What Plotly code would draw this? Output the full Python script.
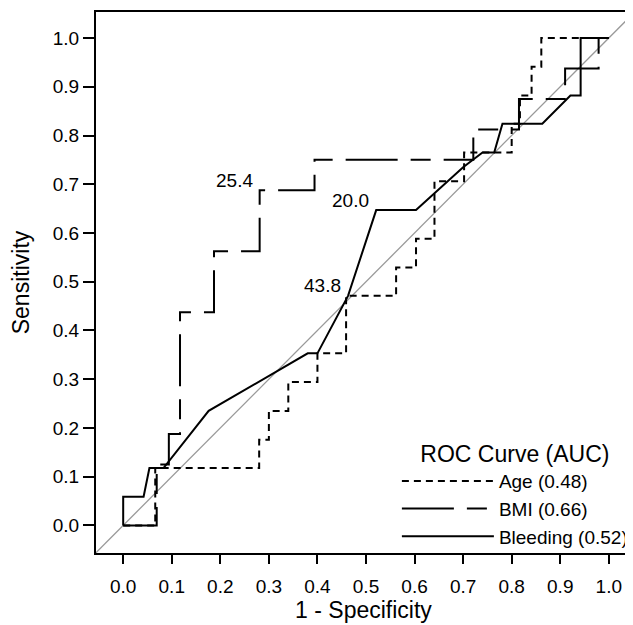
import plotly.graph_objects as go

# ROC curves (1 - specificity, sensitivity)
age_fpr = [0, 0.066, 0.066, 0.28, 0.28, 0.30, 0.30, 0.34, 0.34, 0.40, 0.40, 0.459, 0.459,
           0.562, 0.562, 0.603, 0.603, 0.641, 0.641, 0.702, 0.702, 0.80, 0.80, 0.817,
           0.817, 0.841, 0.841, 0.861, 0.861, 1.0]
age_tpr = [0, 0, 0.118, 0.118, 0.176, 0.176, 0.235, 0.235, 0.294, 0.294, 0.353, 0.353, 0.471,
           0.471, 0.529, 0.529, 0.588, 0.588, 0.706, 0.706, 0.765, 0.765, 0.824, 0.824,
           0.882, 0.882, 0.941, 0.941, 1.0, 1.0]

bmi_fpr = [0, 0.069, 0.069, 0.094, 0.094, 0.117, 0.117, 0.187, 0.187, 0.281, 0.281, 0.394,
           0.394, 0.721, 0.721, 0.815, 0.815, 0.91, 0.91, 0.979, 0.979, 1.0]
bmi_tpr = [0, 0, 0.125, 0.125, 0.1875, 0.1875, 0.4375, 0.4375, 0.5625, 0.5625, 0.6875, 0.6875,
           0.75, 0.75, 0.8125, 0.8125, 0.875, 0.875, 0.9375, 0.9375, 1.0, 1.0]

bleed_fpr = [0, 0, 0.042, 0.054, 0.083, 0.176, 0.38, 0.40, 0.463, 0.521, 0.603, 0.70, 0.74,
             0.764, 0.781, 0.863, 0.921, 0.942, 0.942, 1.0]
bleed_tpr = [0, 0.0588, 0.0588, 0.1176, 0.1176, 0.235, 0.353, 0.353, 0.471, 0.647, 0.647,
             0.735, 0.765, 0.765, 0.824, 0.824, 0.882, 0.882, 1.0, 1.0]

names = ["Age (0.48)", "BMI (0.66)", "Bleeding (0.52)"]

# cutoff labels and the curve points they sit next to
cut_text = ["25.4", "20.0", "43.8"]
cut_x = [0.281, 0.521, 0.463]
cut_y = [0.6875, 0.647, 0.472]

ref_line = [-0.1, 1.1]
ticks = [i / 10 for i in range(11)]
tick_text = ["%.1f" % t for t in ticks]

FONT = "Liberation Sans, Arial, sans-serif"

fig = go.Figure()

# chance line
fig.add_trace(go.Scatter(x=ref_line, y=ref_line, mode="lines",
                         line=dict(color="#999999", width=1.3),
                         showlegend=False, hoverinfo="skip"))

fig.add_trace(go.Scatter(x=age_fpr, y=age_tpr, mode="lines", name=names[0],
                         line=dict(color="black", width=2, dash="7px,5px")))
fig.add_trace(go.Scatter(x=bmi_fpr, y=bmi_tpr, mode="lines", name=names[1],
                         line=dict(color="black", width=2, dash="52px,13px,20px,13px")))
fig.add_trace(go.Scatter(x=bleed_fpr, y=bleed_tpr, mode="lines", name=names[2],
                         line=dict(color="black", width=2)))

for t, x, y in zip(cut_text, cut_x, cut_y):
    fig.add_annotation(x=x, y=y, text=t, showarrow=False,
                       xanchor="right", yanchor="bottom", xshift=-5, yshift=-3,
                       font=dict(size=19, color="black", family=FONT))

# page body has an 8px margin; the figure runs a little past the window bottom
fig.update_layout(
    width=625,
    height=625,
    margin=dict(l=88, r=0, t=4, b=80),
    paper_bgcolor="white",
    plot_bgcolor="white",
    font=dict(family=FONT, size=19, color="black"),
    xaxis=dict(
        range=[-0.056, 1.0457],
        tickmode="array", tickvals=ticks, ticktext=tick_text,
        showline=True, linecolor="black", linewidth=2, mirror=True,
        ticks="outside", ticklen=9, tickwidth=2, tickcolor="black",
        ticklabelstandoff=6,
        showgrid=False, zeroline=False,
        title=dict(text="1 - Specificity", standoff=6),
    ),
    yaxis=dict(
        range=[-0.0566, 1.0534],
        tickmode="array", tickvals=ticks, ticktext=tick_text,
        showline=True, linecolor="black", linewidth=2,
        ticks="outside", ticklen=11, tickwidth=2, tickcolor="black",
        showgrid=False, zeroline=False,
        title=dict(text="Sensitivity", standoff=24),
    ),
    legend=dict(
        title=dict(text="ROC Curve (AUC)", side="top center"),
        x=0.5624, y=-0.004, xanchor="left", yanchor="bottom",
        bgcolor="rgba(0,0,0,0)", itemwidth=92,
        font=dict(size=19),
    ),
)

fig.write_html("out.html")
